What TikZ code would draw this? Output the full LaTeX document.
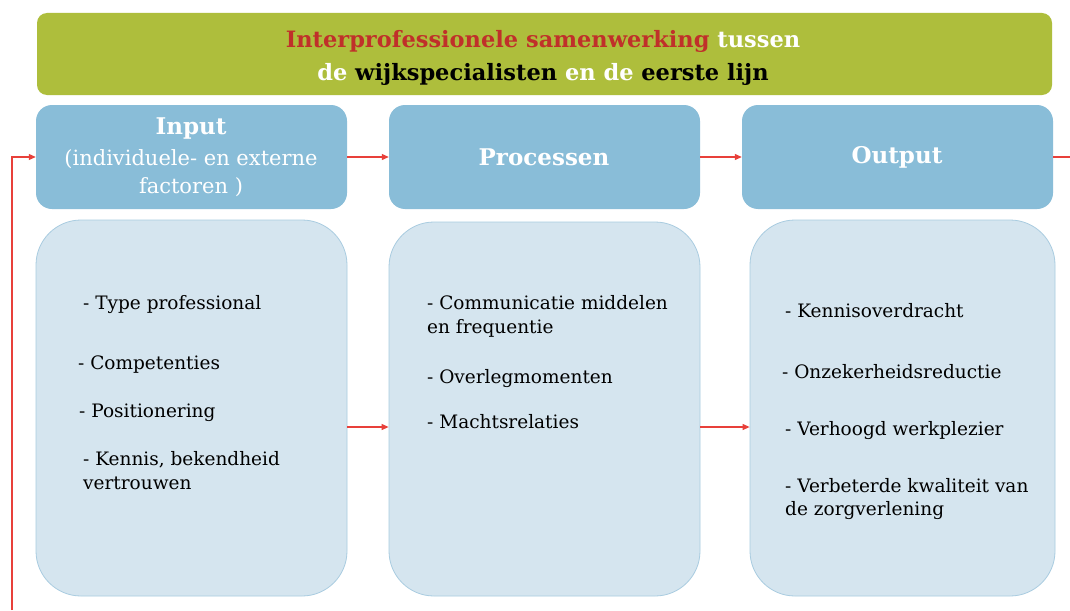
\documentclass[tikz,border=0pt]{standalone}
\usepackage{fontspec}
\setmainfont{DejaVu Serif}
\usetikzlibrary{arrows.meta}
\definecolor{olive}{HTML}{AEBE3C}
\definecolor{hdrblue}{HTML}{89BDD8}
\definecolor{bodyblue}{HTML}{D5E5EF}
\definecolor{bodyedge}{HTML}{A9CCE0}
\definecolor{arrred}{HTML}{E8403A}
\definecolor{titlered}{HTML}{C0302A}
\begin{document}
\begin{tikzpicture}[x=1pt,y=-1pt,
  titlebox/.style={fill=olive, draw=none, rounded corners=10pt, inner sep=0pt},
  hdrbox/.style={fill=hdrblue, draw=none, rounded corners=16pt, inner sep=0pt, minimum width=311pt, minimum height=104pt},
  bodybox/.style={fill=bodyblue, draw=bodyedge, line width=0.8pt, rounded corners=45pt, inner sep=0pt},
  hdrtxt/.style={text=white, font=\fontsize{23}{27}\selectfont\bfseries, inner sep=0pt},
  hdrsub/.style={text=white, font=\fontsize{21}{25}\selectfont, inner sep=0pt},
  item/.style={anchor=base west, text=black, font=\fontsize{18.5}{22}\selectfont, inner sep=0pt},
  ttl/.style={anchor=base, font=\fontsize{22.5}{26}\selectfont\bfseries, inner sep=0pt},
  arr/.style={draw=arrred, line width=1.1pt, -{Triangle[length=7pt,width=6pt]}},
  lin/.style={draw=arrred, line width=1.1pt}
]
\useasboundingbox (0,0) rectangle (1070,610);
\fill[white] (0,0) rectangle (1070,610);

% title
\node[titlebox, minimum width=1015pt, minimum height=82pt] (title) at (544.5,54) {};
\node[ttl] (t1) at (543,48) {\textcolor{titlered}{Interprofessionele samenwerking} \textcolor{white}{tussen}};
\node[ttl] (t2) at (543,81) {\textcolor{white}{de} \textcolor{black}{wijkspecialisten} \textcolor{white}{en de} \textcolor{black}{eerste lijn}};

% headers
\node[hdrbox] (inH) at (191.5,157) {};
\node[hdrbox] (prH) at (544.5,157) {};
\node[hdrbox] (ouH) at (897.5,157) {};
\node[hdrtxt] (inT) at (191,129) {Input};
\node[hdrsub] (inS1) at (191,159) {(individuele- en externe};
\node[hdrsub] (inS2) at (191,187) {factoren )};
\node[hdrtxt] (prT) at (544,157) {Processen};
\node[hdrtxt] (ouT) at (897,157) {Output};

% bodies
\node[bodybox, minimum width=311pt, minimum height=376pt] (inC) at (191.5,408) {};
\node[bodybox, minimum width=311pt, minimum height=374pt] (prC) at (544.5,409) {};
\node[bodybox, minimum width=305pt, minimum height=376pt] (ouC) at (902.5,408) {};

% input items
\node[item] (i1) at (83,309) {- Type professional};
\node[item] (i2) at (78,369) {- Competenties};
\node[item] (i3) at (79,417) {- Positionering};
\node[item] (i4) at (83,465) {- Kennis, bekendheid};
\node[item] (i5) at (83,489) {vertrouwen};

% process items
\node[item] (p1) at (427,309) {- Communicatie middelen};
\node[item] (p2) at (427,333) {en frequentie};
\node[item] (p3) at (427,383) {- Overlegmomenten};
\node[item] (p4) at (427,428) {- Machtsrelaties};

% output items
\node[item] (o1) at (785,317) {- Kennisoverdracht};
\node[item] (o2) at (782,378) {- Onzekerheidsreductie};
\node[item] (o3) at (785,435) {- Verhoogd werkplezier};
\node[item] (o4) at (785,492) {- Verbeterde kwaliteit van};
\node[item] (o5) at (785,515) {de zorgverlening};

% connectors
\coordinate (rowB) at (0,427);
\draw[arr] (inH.east) -- (prH.west);
\draw[arr] (prH.east) -- (ouH.west);
\draw[arr] (inC.east |- rowB) -- (prC.west |- rowB);
\draw[arr] (prC.east |- rowB) -- (ouC.west |- rowB);
\coordinate (fbL) at (12,610);
\coordinate (fbR) at (1070,157);
\draw[arr] (fbL) |- (inH.west);
\draw[lin] (ouH.east) -- (fbR);
\end{tikzpicture}
\end{document}
